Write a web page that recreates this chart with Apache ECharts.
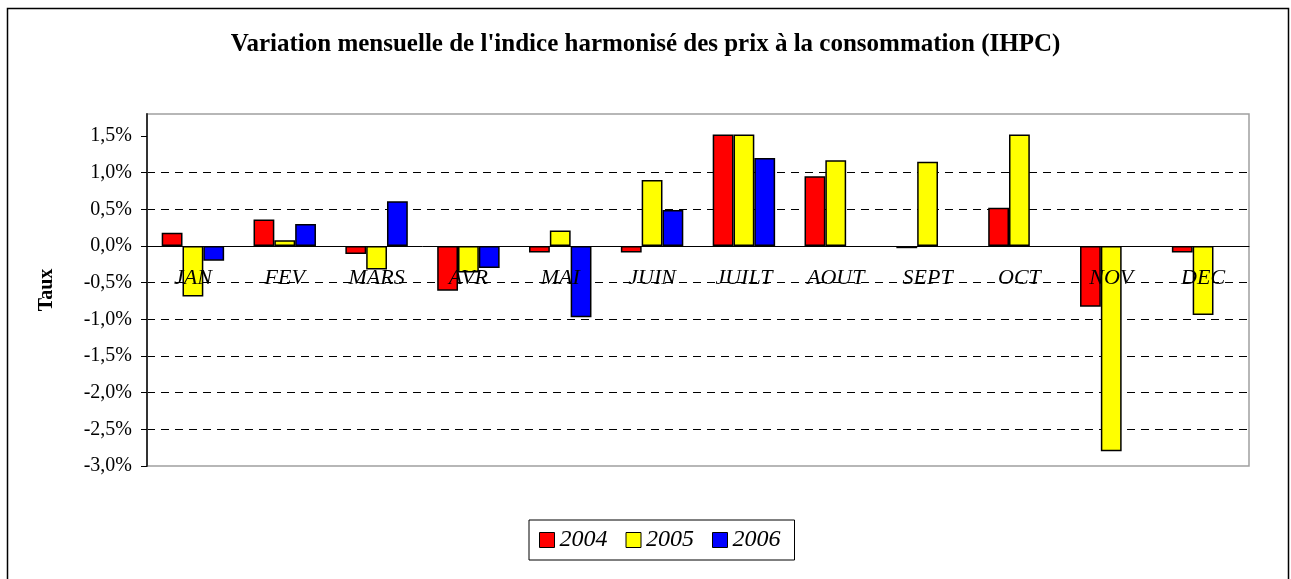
<!DOCTYPE html>
<html>
<head>
<meta charset="utf-8">
<script src="https://cdn.jsdelivr.net/npm/echarts@6/dist/echarts.min.js"></script>
<style>
  html, body { margin: 0; padding: 0; background: #fff; }
  #chart { width: 1291px; height: 579px; }
</style>
</head>
<body>
<div id="chart"></div>
<script>
// Variation mensuelle IHPC, valeurs en %
const months = ['JAN', 'FEV', 'MARS', 'AVR', 'MAI', 'JUIN', 'JUILT', 'AOUT', 'SEPT', 'OCT', 'NOV', 'DEC'];
const years = ['2004', '2005', '2006'];
const val2004 = [0.18, 0.36, -0.11, -0.61, -0.09, -0.09, 1.52, 0.95, -0.03, 0.52, -0.83, -0.09];
const val2005 = [-0.69, 0.08, -0.32, -0.36, 0.21, 0.90, 1.52, 1.17, 1.15, 1.52, -2.80, -0.94];
const val2006 = [-0.20, 0.30, 0.61, -0.30, -0.97, 0.49, 1.20, null, null, null, null, null];
const yTicks = [-3.0, -2.5, -2.0, -1.5, -1.0, -0.5, 0.0, 0.5, 1.0, 1.5];

const serif = '"Liberation Serif", "DejaVu Serif", serif';
const colors = ['#ff0000', '#ffff00', '#0000ff'];

const chart = echarts.init(document.getElementById('chart'));

function barSeries(name, data, color) {
    return {
        name: name,
        type: 'bar',
        data: data,
        barGap: '0%',
        barCategoryGap: '32%',
        itemStyle: {
            color: color,
            borderColor: '#000',
            borderWidth: 1.5
        }
    };
}

const option = {
    animation: false,
    backgroundColor: '#fff',
    title: {
        text: "Variation mensuelle de l'indice harmonisé des prix à la consommation (IHPC)",
        left: 'center',
        top: 27,
        textStyle: {
            fontFamily: serif,
            fontSize: 25,
            fontWeight: 'bold',
            color: '#000'
        }
    },
    graphic: [{
        type: 'rect',
        shape: { x: 7.5, y: 8.5, width: 1281, height: 600 },
        style: { fill: 'none', stroke: '#000', lineWidth: 1.5 },
        silent: true
    }],
    legend: {
        data: years,
        bottom: 19,
        left: 529,
        icon: 'rect',
        itemWidth: 15,
        itemHeight: 15,
        itemGap: 18,
        padding: [8, 14, 8, 10],
        borderColor: '#000',
        borderWidth: 1,
        itemStyle: { borderColor: '#000', borderWidth: 1 },
        textStyle: {
            fontFamily: serif,
            fontStyle: 'italic',
            fontSize: 24,
            color: '#000'
        }
    },
    grid: {
        left: 147,
        right: 42,
        top: 114,
        bottom: 113,
        show: true,
        borderColor: '#a0a0a0',
        borderWidth: 1.5
    },
    xAxis: {
        type: 'category',
        data: months,
        position: 'bottom',
        offset: -220,
        z: 10,
        axisLine: { onZero: false, lineStyle: { color: '#000', width: 1 } },
        axisTick: { length: 6, lineStyle: { color: '#000' } },
        axisLabel: {
            margin: 21,
            fontFamily: serif,
            fontStyle: 'italic',
            fontSize: 22,
            color: '#000'
        }
    },
    yAxis: {
        type: 'value',
        min: -3.0,
        max: 1.8,
        interval: 0.5,
        name: 'Taux',
        nameLocation: 'middle',
        nameRotate: 90,
        nameGap: 90,
        nameTextStyle: {
            fontFamily: serif,
            fontSize: 20,
            fontWeight: 'bold',
            color: '#000'
        },
        axisLine: { show: true, lineStyle: { color: '#333', width: 2 } },
        axisTick: { show: true, length: 6, customValues: yTicks, lineStyle: { color: '#000' } },
        axisLabel: {
            margin: 15,
            showMaxLabel: false,
            fontFamily: serif,
            fontSize: 20,
            color: '#000',
            formatter: function (v) {
                return v.toFixed(1).replace('.', ',') + '%';
            }
        },
        splitLine: {
            show: true,
            showMinLine: false,
            showMaxLine: false,
            lineStyle: { color: '#000', type: [8, 6], width: 1 }
        }
    },
    series: [
        barSeries(years[0], val2004, colors[0]),
        barSeries(years[1], val2005, colors[1]),
        barSeries(years[2], val2006, colors[2])
    ]
};

chart.setOption(option);
window.addEventListener('resize', function () { chart.resize(); });
</script>
</body>
</html>
